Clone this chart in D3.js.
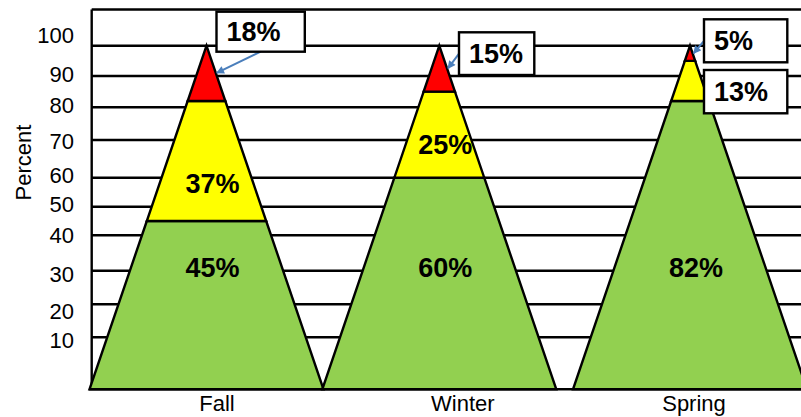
<!DOCTYPE html>
<html><head><meta charset="utf-8">
<script src="https://cdn.jsdelivr.net/npm/d3@7"></script>
<style>
body{margin:0;background:#fff}
svg{display:block}
text{font-family:"Liberation Sans",Arial,Helvetica,sans-serif;fill:#000}
</style>
</head><body>
<svg id="chart" width="801" height="417"></svg>
<script>
// ---------- data ----------
const categories = ["Fall", "Winter", "Spring"];
const seriesKeys = ["green", "yellow", "red"];
const greenValues = [45, 60, 82];
const yellowValues = [37, 25, 13];
const redValues = [18, 15, 5];
const tickValues = [10, 20, 30, 40, 50, 60, 70, 80, 90, 100];
const tickLabels = ["10", "20", "30", "40", "50", "60", "70", "80", "90", "100"];
const yAxisTitle = "Percent";

// ---------- layout / style ----------
const W = 801, H = 417;
const plotLeft = 91.7, plotTop = 9.5, plotRight = 801, plotBottom = 389.3;
const colors = {green: "#92d050", yellow: "#ffff00", red: "#ff0000"};
const arrowColor = "#4a7ebb";
const halfBase = 117;

// the source's gridlines are irregularly spaced: piecewise-linear scale
const gridDomain = [0, 10, 20, 30, 40, 50, 60, 70, 80, 90, 100, 110];
const gridRange = [plotBottom, 337.3, 304.3, 270.7, 235.3, 206.7, 177.7, 140, 107.3, 76, 45.7, plotTop];
const y = d3.scaleLinear().domain(gridDomain).range(gridRange);
// tick label text centres (slightly offset from gridlines in the source)
const yLabel = d3.scaleLinear().domain(tickValues)
  .range([340, 311.7, 274, 235, 204, 175, 141.7, 105, 74, 35]);

const xCenter = d3.scaleOrdinal().domain(categories).range([206.5, 439.3, 690]);
const xCatLabel = d3.scaleOrdinal().domain(categories).range([217, 462.8, 694]);

// callout boxes
const callouts = [
  {cat: "Fall",   key: "red",    dx: 10,   top: 11.7, w: 88.3, h: 40,   from: "bottom"},
  {cat: "Winter", key: "red",    dx: 19.7, top: 32.3, w: 75.3, h: 42.7, from: "left"},
  {cat: "Spring", key: "red",    dx: 14,   top: 19.3, w: 83.3, h: 43,   from: "left"},
  {cat: "Spring", key: "yellow", dx: 14,   top: 70,   w: 83.3, h: 43.3, from: null}
];

// ---------- build ----------
const table = categories.map((c, i) => ({cat: c, green: greenValues[i], yellow: yellowValues[i], red: redValues[i]}));
const stacked = d3.stack().keys(seriesKeys)(table);

const svg = d3.select("#chart");

svg.append("defs").append("marker")
  .attr("id", "arrow").attr("markerUnits", "userSpaceOnUse")
  .attr("viewBox", "0 0 10 10").attr("refX", 9).attr("refY", 5)
  .attr("markerWidth", 9).attr("markerHeight", 8).attr("orient", "auto")
  .append("path").attr("d", "M0,0 L10,5 L0,10 z").attr("fill", arrowColor);

// gridlines
const grid = svg.append("g");
grid.selectAll("line").data(gridDomain.slice(1))
  .join("line")
  .attr("x1", plotLeft).attr("x2", plotRight)
  .attr("y1", d => y(d)).attr("y2", d => y(d))
  .attr("stroke", "#000").attr("stroke-width", 2.4);
// left axis line
svg.append("line").attr("x1", plotLeft).attr("x2", plotLeft)
  .attr("y1", y(110)).attr("y2", y(0)).attr("stroke", "#000").attr("stroke-width", 2.4);

// tick labels
svg.append("g").selectAll("text").data(tickValues).join("text")
  .attr("x", 74).attr("y", d => yLabel(d)).attr("dy", "0.35em")
  .attr("text-anchor", "end").attr("font-size", 22)
  .text((d, i) => tickLabels[i]);

// axis title
svg.append("text")
  .attr("transform", "translate(31,162.5) rotate(-90)")
  .attr("text-anchor", "middle").attr("font-size", 22)
  .text(yAxisTitle);

// pyramids
function totalOf(i) { return greenValues[i] + yellowValues[i] + redValues[i]; }
function segPoints(cat, i, v0, v1) {
  const cx = xCenter(cat);
  const yA = y(totalOf(i)), yB = y(0);
  const hw = yy => halfBase * (yy - yA) / (yB - yA);
  const y0 = y(v0), y1 = y(v1);
  return [[cx - hw(y0), y0], [cx + hw(y0), y0], [cx + hw(y1), y1], [cx - hw(y1), y1]];
}
const pyr = svg.append("g");
stacked.forEach(layer => {
  pyr.append("g").selectAll("path").data(layer).join("path")
    .attr("d", (d, i) => "M" + segPoints(d.data.cat, i, d[0], d[1]).map(p => p.join(",")).join("L") + "Z")
    .attr("fill", colors[layer.key])
    .attr("stroke", "#000").attr("stroke-width", 2.4).attr("stroke-linejoin", "miter");
});
// x axis line
svg.append("line").attr("x1", 89).attr("x2", plotRight)
  .attr("y1", y(0)).attr("y2", y(0)).attr("stroke", "#000").attr("stroke-width", 2.6);

// inside labels (green & Fall/Winter yellow)
const calloutSet = new Set(callouts.map(c => c.cat + "|" + c.key));
const inLabels = [];
stacked.forEach(layer => layer.forEach((d, i) => {
  if (calloutSet.has(d.data.cat + "|" + layer.key)) return;
  let v;
  if (layer.key === "green") v = 31;
  else v = d[0] + (d[1] - d[0]) * 0.35;
  inLabels.push({cat: d.data.cat, v: v, text: (d[1] - d[0]) + "%"});
}));
svg.append("g").selectAll("text").data(inLabels).join("text")
  .attr("x", d => xCenter(d.cat) + 6).attr("y", d => y(d.v)).attr("dy", "0.35em")
  .attr("text-anchor", "middle").attr("font-size", 27).attr("font-weight", "bold")
  .text(d => d.text);

// callouts
const cg = svg.append("g");
callouts.forEach(c => {
  const ci = categories.indexOf(c.cat);
  const layer = stacked.find(l => l.key === c.key);
  const d = layer[ci];
  const left = xCenter(c.cat) + c.dx;
  if (c.from) {
    const vm = (d[0] + d[1]) / 2;
    const yA = y(totalOf(ci)), yB = y(0), ym = y(vm);
    const tx = xCenter(c.cat) + halfBase * (ym - yA) / (yB - yA) + 1;
    let sx, sy;
    if (c.from === "bottom") { sx = left + c.w / 2; sy = c.top + c.h; }
    else { sx = left; sy = c.top + c.h / 2; }
    cg.append("line").attr("x1", sx).attr("y1", sy).attr("x2", tx).attr("y2", ym)
      .attr("stroke", arrowColor).attr("stroke-width", 2).attr("marker-end", "url(#arrow)");
  }
  cg.append("rect").attr("x", left).attr("y", c.top).attr("width", c.w).attr("height", c.h)
    .attr("fill", "#fff").attr("stroke", "#000").attr("stroke-width", 2.4);
  cg.append("text").attr("x", left + 10).attr("y", c.top + c.h / 2).attr("dy", "0.35em")
    .attr("font-size", 27).attr("font-weight", "bold")
    .text((d[1] - d[0]) + "%");
});

// category labels
svg.append("g").selectAll("text").data(categories).join("text")
  .attr("x", d => xCatLabel(d)).attr("y", 411)
  .attr("text-anchor", "middle").attr("font-size", 22)
  .text(d => d);
</script>
</body></html>
